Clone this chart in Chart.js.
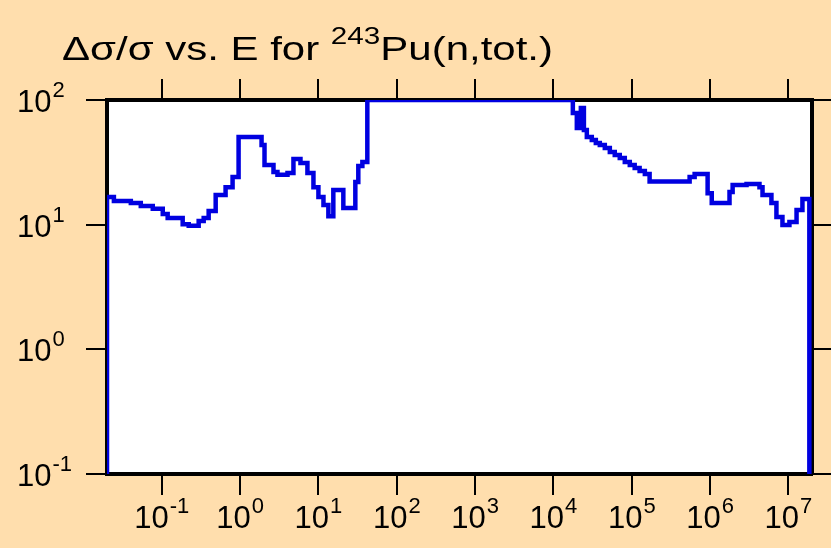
<!DOCTYPE html>
<html>
<head>
<meta charset="utf-8">
<script src="https://cdn.jsdelivr.net/npm/chart.js@4.4.0/dist/chart.umd.min.js"></script>
<style>
    html, body { margin: 0; padding: 0; background: #FFDEAD; }
    #chart { display: block; }
</style>
</head>
<body>
<canvas id="chart" width="831" height="548"></canvas>
<script>
// energy (eV) where each step starts, and the relative uncertainty (%) held until the next one
var energies = [0.02, 0.02, 0.0245, 0.0403, 0.054, 0.0768, 0.103, 0.119, 0.185, 0.221,
    0.296, 0.343, 0.397, 0.488, 0.653, 0.802, 0.957, 1.88, 2.05, 2.67,
    3.0, 4.03, 4.8, 5.9, 7.24, 8.64, 10.0, 11.6, 13.4, 15.5,
    20.8, 29.6, 32.3, 36.4, 42.1, 17700, 19900, 22400, 24500, 26700,
    30900, 34800, 39100, 45300, 52500, 60700, 70300, 81500, 94400, 109000,
    126000, 147000, 169000, 548000, 635000, 930000, 1.05e6, 1.77e6, 1.94e6, 2.92e6,
    4.27e6, 4.67e6, 6.07e6, 7.03e6, 8.39e6, 1.03e7, 1.27e7, 1.51e7, 1.85e7];
var uncertainties = [0.1, 16.7, 15.5, 14.9, 14.1, 13.4, 12.2, 11.3, 10.1, 9.8,
    10.7, 11.3, 12.9, 17.3, 20.0, 24.1, 50.5, 43.5, 30.1, 26.5,
    25.1, 26.0, 33.7, 31.3, 26.0, 20.0, 16.7, 14.4, 11.7, 19.0,
    13.6, 22.0, 29.6, 31.8, 100, 78.7, 59.6, 86.3, 57.4, 50.5,
    47.8, 45.2, 43.5, 41.2, 38.3, 36.2, 34.3, 31.8, 30.1, 28.5,
    27.0, 25.5, 22.2, 24.1, 25.5, 17.9, 14.9, 18.3, 20.8, 21.2,
    20.0, 17.3, 14.9, 11.5, 9.96, 10.5, 13.1, 16.1, 0.1];
var xTickPowers = [-1, 0, 1, 2, 3, 4, 5, 6, 7];
var yTickPowers = [-1, 0, 1, 2];
var xRange = [0.02, 2e7];
var yRange = [0.1, 100];

var FONT = '"Liberation Sans", Arial, Helvetica, sans-serif';

function decadeTicks(powers) {
    return function (scale) {
        scale.ticks = powers.map(function (p) { return { value: Math.pow(10, p) }; });
    };
}

function axis(position, range, powers, tickLength) {
    return {
        type: 'logarithmic',
        position: position,
        min: range[0],
        max: range[1],
        afterBuildTicks: decadeTicks(powers),
        ticks: { display: false },
        grid: {
            drawOnChartArea: false,
            drawTicks: true,
            tickLength: tickLength,
            color: '#000',
            lineWidth: 2
        },
        border: { display: true, color: '#000', width: 4 }
    };
}

// power-of-ten label: "10" with a raised exponent
function drawPower(ctx, exp, x, baseline, align) {
    ctx.font = '31px ' + FONT;
    var wBase = ctx.measureText('10').width;
    ctx.font = '22px ' + FONT;
    var wExp = ctx.measureText(exp).width;
    var left = align === 'center' ? x - (wBase + wExp + 1) / 2 : x;
    ctx.textAlign = 'left';
    ctx.font = '31px ' + FONT;
    ctx.fillText('10', left, baseline);
    ctx.font = '22px ' + FONT;
    ctx.fillText(exp, left + wBase + 1, baseline - 15);
}

function drawTitle(ctx) {
    var parts = [
        { text: '\u0394\u03c3/\u03c3 vs. E for ', size: 34, rise: 0 },
        { text: '243', size: 24, rise: 16 },
        { text: 'Pu(n,tot.)', size: 34, rise: 0 }
    ];
    var natural = 0;
    parts.forEach(function (p) {
        ctx.font = p.size + 'px ' + FONT;
        natural += ctx.measureText(p.text).width;
    });
    var left = 62, width = 491, base = 60;
    ctx.save();
    ctx.translate(left, base);
    ctx.scale(width / natural, 1);
    var x = 0;
    parts.forEach(function (p) {
        ctx.font = p.size + 'px ' + FONT;
        ctx.fillText(p.text, x, -p.rise);
        x += ctx.measureText(p.text).width;
    });
    ctx.restore();
}

var framePlugin = {
    id: 'frame',
    beforeDraw: function (chart) {
        var ctx = chart.ctx, a = chart.chartArea;
        ctx.save();
        ctx.fillStyle = '#FFDEAD';
        ctx.fillRect(0, 0, chart.width, chart.height);
        ctx.fillStyle = '#fff';
        ctx.fillRect(a.left, a.top, a.right - a.left, a.bottom - a.top);
        ctx.restore();
    },
    afterDraw: function (chart) {
        var ctx = chart.ctx;
        var xs = chart.scales.x, ys = chart.scales.y;
        ctx.save();
        ctx.fillStyle = '#000';
        ctx.textBaseline = 'alphabetic';
        xTickPowers.forEach(function (p) {
            drawPower(ctx, String(p), xs.getPixelForValue(Math.pow(10, p)), 528, 'center');
        });
        yTickPowers.forEach(function (p) {
            drawPower(ctx, String(p), 17, ys.getPixelForValue(Math.pow(10, p)) + 12, 'left');
        });
        ctx.textAlign = 'left';
        drawTitle(ctx);
        ctx.restore();
    }
};

var points = energies.map(function (e, i) { return { x: e, y: uncertainties[i] }; });

new Chart(document.getElementById('chart').getContext('2d'), {
    type: 'line',
    data: {
        datasets: [{
            data: points,
            stepped: 'before',
            borderColor: '#0000e0',
            borderWidth: 4.5,
            pointRadius: 0,
            fill: false
        }]
    },
    options: {
        responsive: false,
        animation: false,
        devicePixelRatio: 1,
        layout: { padding: { left: 86, right: 0, top: 79, bottom: 53 } },
        plugins: {
            legend: { display: false },
            tooltip: { enabled: false }
        },
        scales: {
            x: axis('bottom', xRange, xTickPowers, 21),
            x2: axis('top', xRange, xTickPowers, 21),
            y: axis('left', yRange, yTickPowers, 21),
            y2: axis('right', yRange, yTickPowers, 19)
        }
    },
    plugins: [framePlugin]
});
</script>
</body>
</html>
